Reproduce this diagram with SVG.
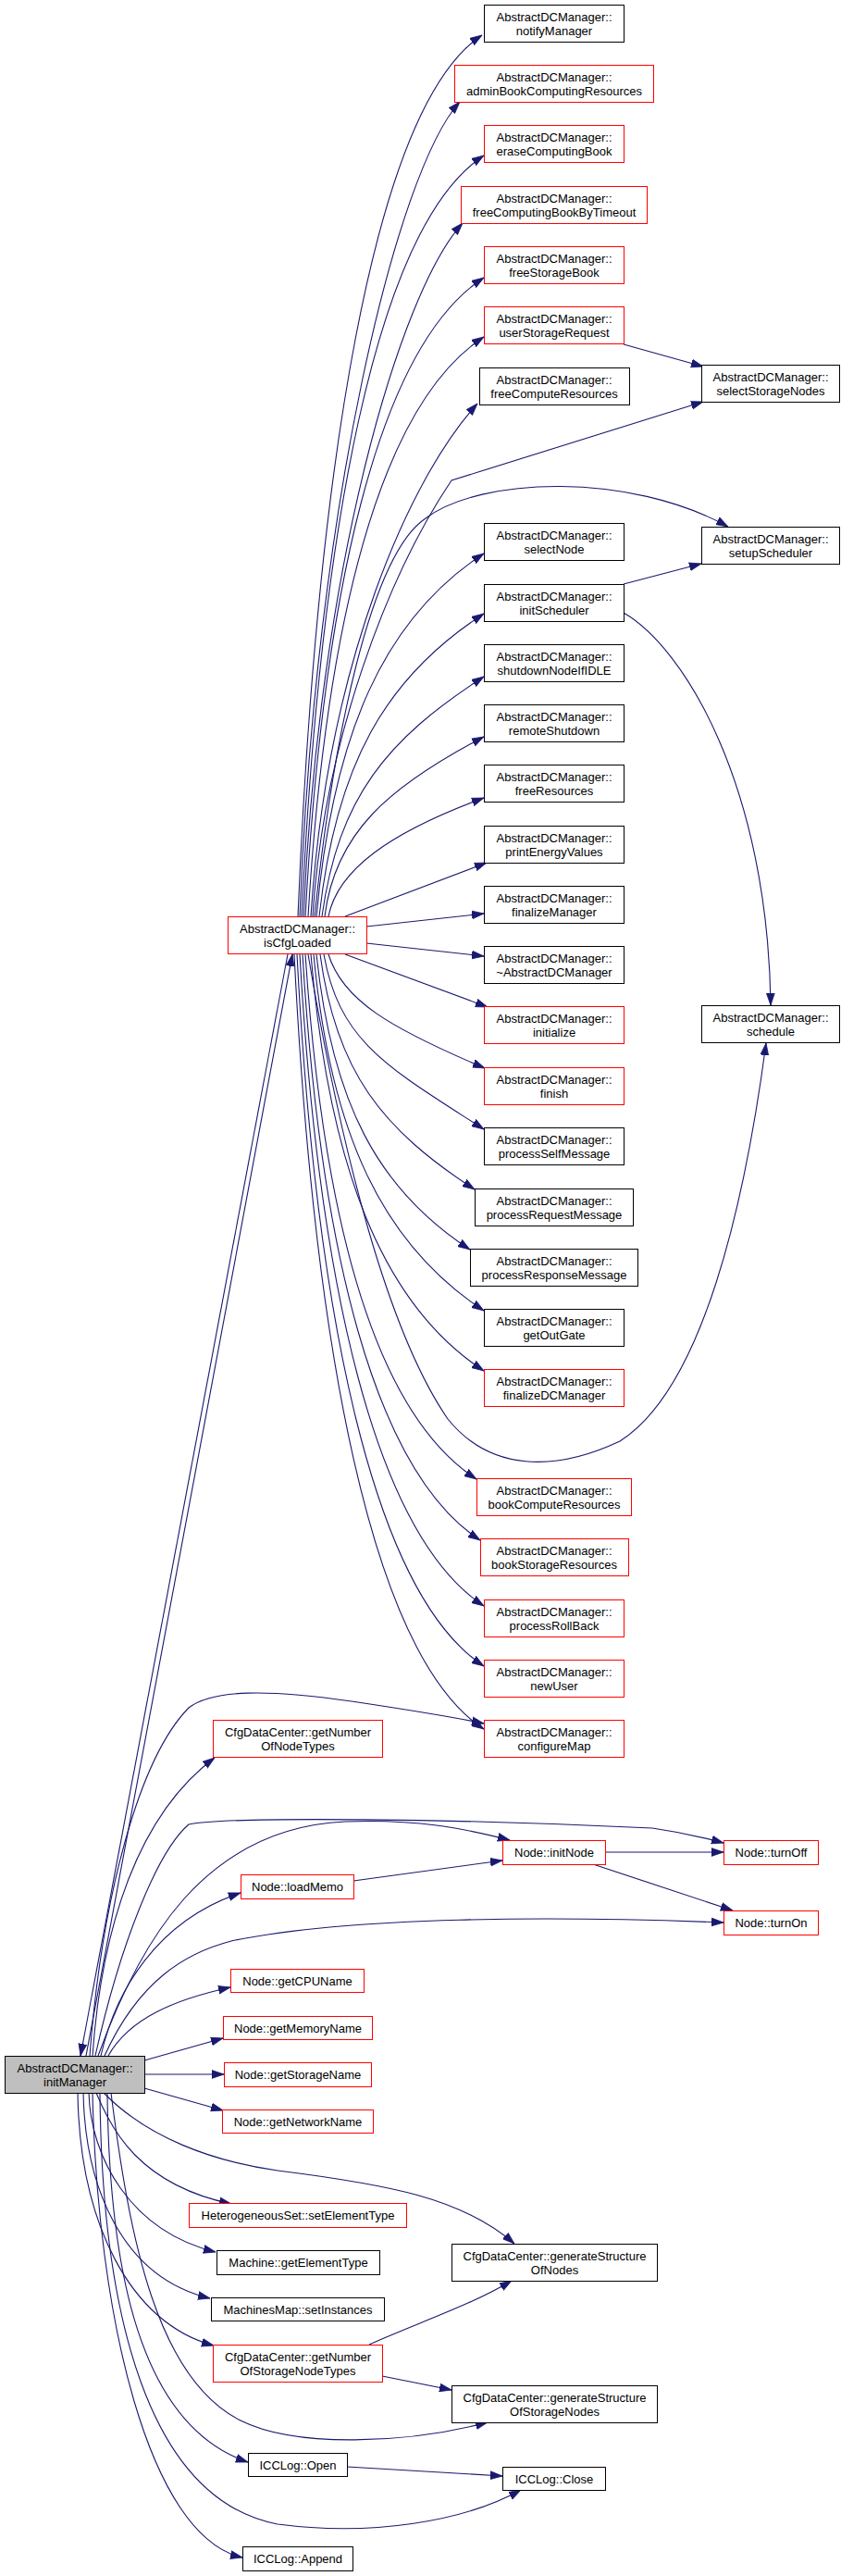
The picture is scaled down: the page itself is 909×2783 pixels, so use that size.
<svg xmlns="http://www.w3.org/2000/svg" width="909" height="2783" viewBox="0 0 909 2783">
<style>
.b{fill:#fff;stroke:#000;stroke-width:1}
.r{fill:#fff;stroke:#f00;stroke-width:1}
.g{fill:#bfbfbf;stroke:#000;stroke-width:1}
text{font-family:"Liberation Sans",Arial,Helvetica,sans-serif;font-size:13px;text-anchor:middle;fill:#000}
#edges path{fill:none;stroke:#191970;stroke-width:1.1;marker-end:url(#a)}
</style>
<defs>
<marker id="a" markerWidth="13" markerHeight="10" refX="13" refY="5" orient="auto" markerUnits="userSpaceOnUse" viewBox="0 0 13 10">
<path d="M0,0.6 L13,5 L0,9.4 z" fill="#191970" stroke="#191970" stroke-width="0.8"/>
</marker>
</defs>
<rect width="909" height="2783" fill="#fff"/>
<g id="edges">
<path d="M322,990 C342,514 402,116 521,38"/>
<path d="M324,990 C341,550 428,186 497,110"/>
<path d="M326,990 C346,579 405,245 523,168"/>
<path d="M328,990 C345,616 431,317 500,241"/>
<path d="M330,990 C349,645 407,375 523,300"/>
<path d="M333,990 C352,677 409,438 523,364"/>
<path d="M336,990 C354,713 444,515 516,436"/>
<path d="M338,990 C350,800 420,620 488,519 L760,434"/>
<path d="M340,990 C360,800 400,600 460,560 C520,515 680,510 787,569"/>
<path d="M342,990 C360,794 414,669 523,598"/>
<path d="M345,990 C363,827 416,732 523,663"/>
<path d="M348,990 C366,861 418,799 523,731"/>
<path d="M351,990 C362,900 420,850 523,796"/>
<path d="M355,990 C365,940 420,900 523,862"/>
<path d="M373,990 L526,932"/>
<path d="M396,1001 L523,987"/>
<path d="M396,1019 L523,1033"/>
<path d="M373,1031 L527,1088"/>
<path d="M355,1031 C370,1080 420,1110 524,1154"/>
<path d="M350,1031 C367,1126 419,1153 523,1220"/>
<path d="M346,1031 C363,1158 413,1220 513,1285"/>
<path d="M342,1031 C359,1191 408,1285 508,1350"/>
<path d="M339,1031 C357,1224 413,1344 523,1416"/>
<path d="M336,1031 C355,1256 411,1408 523,1481"/>
<path d="M333,1031 C370,1250 420,1440 484,1533 C530,1590 600,1590 670,1557 C760,1500 805,1300 828,1127"/>
<path d="M330,1031 C349,1315 404,1526 515,1598"/>
<path d="M327,1031 C346,1348 404,1589 519,1664"/>
<path d="M324,1031 C344,1383 404,1657 523,1735"/>
<path d="M321,1031 C341,1416 402,1721 523,1800"/>
<path d="M318,1031 C339,1450 400,1788 523,1868"/>
<path d="M674,372 L760,396"/>
<path d="M674,631 L758,609"/>
<path d="M674,662 C740,700 830,850 833,1086"/>
<path d="M93,2221 L316,1031"/>
<path d="M311,1031 L87,2221"/>
<path d="M97,2221 C110,2050 150,1900 204,1845 C230,1825 290,1825 380,1838 C440,1847 490,1855 523,1862"/>
<path d="M100,2221 C110,2080 150,1960 232,1899"/>
<path d="M103,2221 C130,2100 170,2000 204,1971 C250,1962 500,1965 705,1975 C740,1980 760,1985 782,1991"/>
<path d="M106,2221 C150,2100 220,1975 373,1968 C450,1965 500,1975 551,1988"/>
<path d="M109,2221 C125,2150 170,2075 260,2045"/>
<path d="M382,2032 L543,2010"/>
<path d="M654,2001 L782,2001"/>
<path d="M641,2014 L792,2064"/>
<path d="M113,2221 C150,2140 200,2110 250,2097 C380,2070 600,2070 782,2077"/>
<path d="M117,2221 C140,2180 190,2160 249,2147"/>
<path d="M156,2226 L241,2202"/>
<path d="M156,2241 L242,2241"/>
<path d="M156,2256 L241,2280"/>
<path d="M112,2261 C160,2310 230,2335 300,2345 C420,2360 500,2375 556,2424"/>
<path d="M104,2261 C120,2300 150,2360 250,2381"/>
<path d="M96,2261 C98,2330 140,2410 233,2433"/>
<path d="M90,2261 C92,2360 130,2460 227,2483"/>
<path d="M84,2261 C86,2400 140,2510 231,2534"/>
<path d="M399,2533 C450,2510 510,2490 553,2464"/>
<path d="M413,2567 L488,2582"/>
<path d="M120,2261 C140,2420 170,2570 260,2615 C320,2645 440,2640 527,2617"/>
<path d="M116,2261 C118,2450 150,2620 268,2660"/>
<path d="M375,2665 L543,2675"/>
<path d="M108,2261 C110,2500 160,2700 300,2727 C400,2740 500,2725 563,2690"/>
<path d="M100,2261 C105,2500 160,2740 262,2763"/>
</g>
<g id="notifyManager"><rect class="b" x="523.5" y="5.5" width="151" height="40"/><text x="599" y="22.5">AbstractDCManager::</text><text x="599" y="37.5">notifyManager</text></g>
<g id="adminBookComputingResources"><rect class="r" x="491.5" y="70.5" width="215" height="40"/><text x="599" y="87.5">AbstractDCManager::</text><text x="599" y="102.5">adminBookComputingResources</text></g>
<g id="eraseComputingBook"><rect class="r" x="523.5" y="135.5" width="151" height="40"/><text x="599" y="152.5">AbstractDCManager::</text><text x="599" y="167.5">eraseComputingBook</text></g>
<g id="freeComputingBookByTimeout"><rect class="r" x="498.5" y="201.5" width="201" height="40"/><text x="599" y="218.5">AbstractDCManager::</text><text x="599" y="233.5">freeComputingBookByTimeout</text></g>
<g id="freeStorageBook"><rect class="r" x="523.5" y="266.5" width="151" height="40"/><text x="599" y="283.5">AbstractDCManager::</text><text x="599" y="298.5">freeStorageBook</text></g>
<g id="userStorageRequest"><rect class="r" x="523.5" y="331.5" width="151" height="40"/><text x="599" y="348.5">AbstractDCManager::</text><text x="599" y="363.5">userStorageRequest</text></g>
<g id="freeComputeResources"><rect class="b" x="518.5" y="397.5" width="162" height="40"/><text x="599" y="414.5">AbstractDCManager::</text><text x="599" y="429.5">freeComputeResources</text></g>
<g id="selectStorageNodes"><rect class="b" x="758.5" y="394.5" width="149" height="40"/><text x="833" y="411.5">AbstractDCManager::</text><text x="833" y="426.5">selectStorageNodes</text></g>
<g id="selectNode"><rect class="b" x="523.5" y="565.5" width="151" height="40"/><text x="599" y="582.5">AbstractDCManager::</text><text x="599" y="597.5">selectNode</text></g>
<g id="setupScheduler"><rect class="b" x="758.5" y="569.5" width="149" height="40"/><text x="833" y="586.5">AbstractDCManager::</text><text x="833" y="601.5">setupScheduler</text></g>
<g id="initScheduler"><rect class="b" x="523.5" y="631.5" width="151" height="40"/><text x="599" y="648.5">AbstractDCManager::</text><text x="599" y="663.5">initScheduler</text></g>
<g id="shutdownNodeIfIDLE"><rect class="b" x="523.5" y="696.5" width="151" height="40"/><text x="599" y="713.5">AbstractDCManager::</text><text x="599" y="728.5">shutdownNodeIfIDLE</text></g>
<g id="remoteShutdown"><rect class="b" x="523.5" y="761.5" width="151" height="40"/><text x="599" y="778.5">AbstractDCManager::</text><text x="599" y="793.5">remoteShutdown</text></g>
<g id="freeResources"><rect class="b" x="523.5" y="826.5" width="151" height="40"/><text x="599" y="843.5">AbstractDCManager::</text><text x="599" y="858.5">freeResources</text></g>
<g id="printEnergyValues"><rect class="b" x="523.5" y="892.5" width="151" height="40"/><text x="599" y="909.5">AbstractDCManager::</text><text x="599" y="924.5">printEnergyValues</text></g>
<g id="finalizeManager"><rect class="b" x="523.5" y="957.5" width="151" height="40"/><text x="599" y="974.5">AbstractDCManager::</text><text x="599" y="989.5">finalizeManager</text></g>
<g id="isCfgLoaded"><rect class="r" x="246.5" y="990.5" width="150" height="40"/><text x="321.5" y="1007.5">AbstractDCManager::</text><text x="321.5" y="1022.5">isCfgLoaded</text></g>
<g id="destructor"><rect class="b" x="523.5" y="1022.5" width="151" height="40"/><text x="599" y="1039.5">AbstractDCManager::</text><text x="599" y="1054.5">~AbstractDCManager</text></g>
<g id="initialize"><rect class="r" x="523.5" y="1087.5" width="151" height="40"/><text x="599" y="1104.5">AbstractDCManager::</text><text x="599" y="1119.5">initialize</text></g>
<g id="schedule"><rect class="b" x="758.5" y="1086.5" width="149" height="40"/><text x="833" y="1103.5">AbstractDCManager::</text><text x="833" y="1118.5">schedule</text></g>
<g id="finish"><rect class="r" x="523.5" y="1153.5" width="151" height="40"/><text x="599" y="1170.5">AbstractDCManager::</text><text x="599" y="1185.5">finish</text></g>
<g id="processSelfMessage"><rect class="b" x="523.5" y="1218.5" width="151" height="40"/><text x="599" y="1235.5">AbstractDCManager::</text><text x="599" y="1250.5">processSelfMessage</text></g>
<g id="processRequestMessage"><rect class="b" x="513.5" y="1284.5" width="171" height="40"/><text x="599" y="1301.5">AbstractDCManager::</text><text x="599" y="1316.5">processRequestMessage</text></g>
<g id="processResponseMessage"><rect class="b" x="508.5" y="1349.5" width="181" height="40"/><text x="599" y="1366.5">AbstractDCManager::</text><text x="599" y="1381.5">processResponseMessage</text></g>
<g id="getOutGate"><rect class="b" x="523.5" y="1414.5" width="151" height="40"/><text x="599" y="1431.5">AbstractDCManager::</text><text x="599" y="1446.5">getOutGate</text></g>
<g id="finalizeDCManager"><rect class="r" x="523.5" y="1479.5" width="151" height="40"/><text x="599" y="1496.5">AbstractDCManager::</text><text x="599" y="1511.5">finalizeDCManager</text></g>
<g id="bookComputeResources"><rect class="r" x="515.5" y="1597.5" width="167" height="40"/><text x="599" y="1614.5">AbstractDCManager::</text><text x="599" y="1629.5">bookComputeResources</text></g>
<g id="bookStorageResources"><rect class="r" x="519.5" y="1662.5" width="160" height="40"/><text x="599" y="1679.5">AbstractDCManager::</text><text x="599" y="1694.5">bookStorageResources</text></g>
<g id="processRollBack"><rect class="r" x="523.5" y="1728.5" width="151" height="40"/><text x="599" y="1745.5">AbstractDCManager::</text><text x="599" y="1760.5">processRollBack</text></g>
<g id="newUser"><rect class="r" x="523.5" y="1793.5" width="151" height="40"/><text x="599" y="1810.5">AbstractDCManager::</text><text x="599" y="1825.5">newUser</text></g>
<g id="configureMap"><rect class="r" x="523.5" y="1858.5" width="151" height="40"/><text x="599" y="1875.5">AbstractDCManager::</text><text x="599" y="1890.5">configureMap</text></g>
<g id="getNumberOfNodeTypes"><rect class="r" x="230.5" y="1858.5" width="183" height="40"/><text x="322" y="1875.5">CfgDataCenter::getNumber</text><text x="322" y="1890.5">OfNodeTypes</text></g>
<g id="initNode"><rect class="r" x="543.5" y="1988.5" width="111" height="26"/><text x="599" y="2006">Node::initNode</text></g>
<g id="turnOff"><rect class="r" x="782.5" y="1988.5" width="102" height="26"/><text x="833.5" y="2006">Node::turnOff</text></g>
<g id="loadMemo"><rect class="r" x="260.5" y="2025.5" width="122" height="26"/><text x="321.5" y="2043">Node::loadMemo</text></g>
<g id="turnOn"><rect class="r" x="782.5" y="2064.5" width="102" height="26"/><text x="833.5" y="2082">Node::turnOn</text></g>
<g id="getCPUName"><rect class="r" x="249.5" y="2127.5" width="144" height="25"/><text x="321.5" y="2144.5">Node::getCPUName</text></g>
<g id="getMemoryName"><rect class="r" x="241.5" y="2178.5" width="161" height="25"/><text x="322" y="2195.5">Node::getMemoryName</text></g>
<g id="initManager"><rect class="g" x="5.5" y="2221.5" width="151" height="40"/><text x="81" y="2238.5">AbstractDCManager::</text><text x="81" y="2253.5">initManager</text></g>
<g id="getStorageName"><rect class="r" x="242.5" y="2228.5" width="159" height="26"/><text x="322" y="2246">Node::getStorageName</text></g>
<g id="getNetworkName"><rect class="r" x="240.5" y="2279.5" width="163" height="25"/><text x="322" y="2296.5">Node::getNetworkName</text></g>
<g id="setElementType"><rect class="r" x="204.5" y="2380.5" width="235" height="26"/><text x="322" y="2398">HeterogeneousSet::setElementType</text></g>
<g id="getElementType"><rect class="b" x="234.5" y="2431.5" width="176" height="26"/><text x="322.5" y="2449">Machine::getElementType</text></g>
<g id="generateStructureOfNodes"><rect class="b" x="488.5" y="2424.5" width="222" height="40"/><text x="599.5" y="2441.5">CfgDataCenter::generateStructure</text><text x="599.5" y="2456.5">OfNodes</text></g>
<g id="setInstances"><rect class="b" x="228.5" y="2482.5" width="187" height="25"/><text x="322" y="2499.5">MachinesMap::setInstances</text></g>
<g id="getNumberOfStorageNodeTypes"><rect class="r" x="230.5" y="2533.5" width="183" height="40"/><text x="322" y="2550.5">CfgDataCenter::getNumber</text><text x="322" y="2565.5">OfStorageNodeTypes</text></g>
<g id="generateStructureOfStorageNodes"><rect class="b" x="488.5" y="2577.5" width="222" height="40"/><text x="599.5" y="2594.5">CfgDataCenter::generateStructure</text><text x="599.5" y="2609.5">OfStorageNodes</text></g>
<g id="ICCLogOpen"><rect class="b" x="268.5" y="2650.5" width="107" height="25"/><text x="322" y="2667.5">ICCLog::Open</text></g>
<g id="ICCLogClose"><rect class="b" x="543.5" y="2665.5" width="111" height="25"/><text x="599" y="2682.5">ICCLog::Close</text></g>
<g id="ICCLogAppend"><rect class="b" x="262.5" y="2751.5" width="119" height="26"/><text x="322" y="2769">ICCLog::Append</text></g>
</svg>
